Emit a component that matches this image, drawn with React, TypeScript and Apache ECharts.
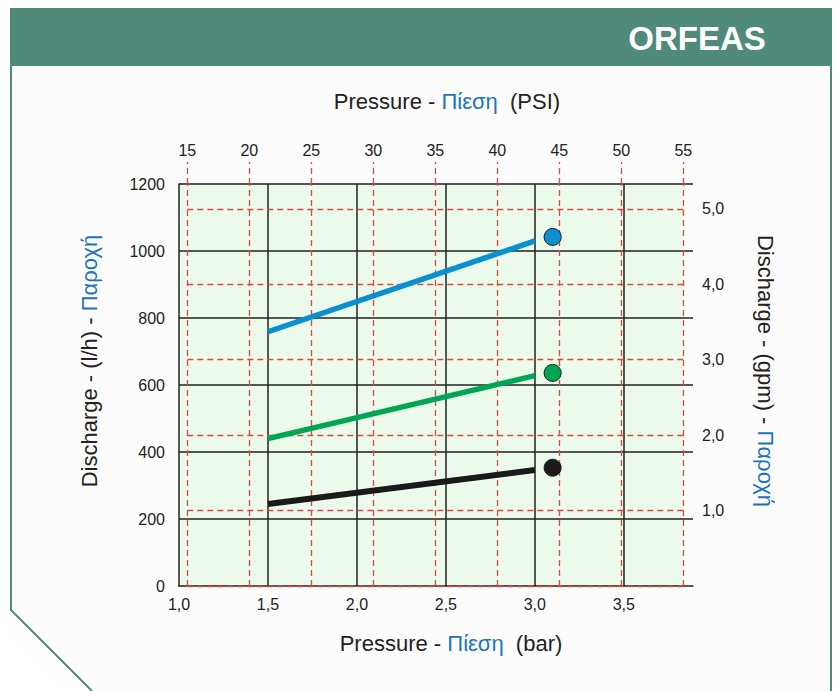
import React, { useEffect, useRef } from "react";
import * as echarts from "echarts";

// ---- data ----
const barTicks = [1.0, 1.5, 2.0, 2.5, 3.0, 3.5];
const psiTicks = [15, 20, 25, 30, 35, 40, 45, 50, 55];
const gpmTicks = [0, 1, 2, 3, 4, 5];
const gpmLabels = [1, 2, 3, 4, 5];
const lphMax = 1200;
const lphInterval = 200;
const barMin = 1.0;
const barMax = 3.889;
const psiMin = 14.33;
const psiMax = 55.78;
const gpmMax = 5.33;

const blueLine = [[1.5, 759], [3.0, 1030]];
const blueDot = [[3.1, 1042]];
const greenLine = [[1.5, 440], [3.0, 628]];
const greenDot = [[3.1, 636]];
const blackLine = [[1.5, 245], [3.0, 346]];
const blackDot = [[3.1, 353]];

const BLUE = "#0a8fd0";
const GREEN = "#00a651";
const BLACK = "#1a1a1a";
const RED = "#e2483c";
const TITLE_BLUE = "#1b75bb";
const FRAME = "#4f8a7a";
const FONT = "'Liberation Sans', Arial, sans-serif";
const TS = 22;
const LS = 16;

const comma = (v: number) => v.toFixed(1).replace(".", ",");

export default function App() {
  const ref = useRef<HTMLDivElement>(null);
  useEffect(() => {
    if (!ref.current) return;
    const chart = echarts.init(ref.current, undefined, { renderer: "svg" });
    const redStyle = { color: RED, width: 1.3, type: [6, 4] as any };
    const blackSplit = { color: "#222", width: 1.5 };
    const richTitle = {
      a: { fill: "#222", fontSize: TS, fontFamily: FONT },
      b: { fill: TITLE_BLUE, fontSize: TS, fontFamily: FONT },
    };
    const option: any = {
      animation: false,
      backgroundColor: "#ffffff",
      textStyle: { fontFamily: FONT },
      grid: [
        { left: 179, top: 184, width: 514, height: 402, containLabel: false },
        { left: 179, top: 162, width: 514, height: 22, containLabel: false },
      ],
      xAxis: [
        {
          type: "value",
          gridIndex: 0,
          position: "bottom",
          min: barMin,
          max: barMax,
          interval: 0.5,
          z: 1,
          axisLine: { show: true, onZero: false, lineStyle: blackSplit },
          axisTick: { show: false },
          axisLabel: {
            customValues: barTicks,
            formatter: (v: number) => comma(v),
            color: "#222",
            fontSize: LS,
            margin: 10,
            fontFamily: FONT,
          },
          splitLine: { show: true, showMinLine: false, showMaxLine: false, lineStyle: blackSplit },
        },
        {
          type: "value",
          gridIndex: 0,
          position: "top",
          min: psiMin,
          max: psiMax,
          axisLine: { show: false },
          axisTick: { show: false },
          axisLabel: { customValues: psiTicks, color: "#222", fontSize: LS, margin: 26, fontFamily: FONT },
          splitLine: { show: false },
        },
        {
          type: "value",
          gridIndex: 1,
          min: psiMin,
          max: psiMax,
          show: false,
        },
      ],
      yAxis: [
        {
          type: "value",
          gridIndex: 0,
          position: "left",
          min: 0,
          max: lphMax,
          interval: lphInterval,
          z: 1,
          axisLine: { show: true, lineStyle: blackSplit },
          axisTick: { show: false },
          axisLabel: {
            color: "#222",
            fontSize: LS,
            margin: 14,
            fontFamily: FONT,
            formatter: (v: number) => String(v),
          },
          splitLine: { show: true, showMinLine: false, lineStyle: blackSplit },
        },
        {
          type: "value",
          gridIndex: 0,
          position: "right",
          min: 0,
          max: gpmMax,
          axisLine: { show: false },
          axisTick: { show: false },
          axisLabel: {
            customValues: gpmLabels,
            formatter: (v: number) => comma(v),
            color: "#222",
            fontSize: LS,
            margin: 9,
            fontFamily: FONT,
          },
          splitLine: { show: false },
        },
        {
          type: "value",
          gridIndex: 1,
          min: 0,
          max: 1,
          show: false,
        },
      ],
      graphic: [
        {
          type: "polygon",
          z: -10,
          shape: { points: [[11, 66], [831, 66], [831, 691], [92, 691], [11, 610]] },
          style: { fill: "#fcfcfc" },
        },
        { type: "rect", shape: { x: 10, y: 8, width: 822, height: 58 }, style: { fill: FRAME } },
        {
          type: "polyline",
          shape: { points: [[11, 66], [11, 610], [92, 691]] },
          style: { stroke: FRAME, lineWidth: 2, fill: null },
        },
        {
          type: "line",
          shape: { x1: 831, y1: 66, x2: 831, y2: 691 },
          style: { stroke: FRAME, lineWidth: 2 },
        },
        {
          type: "text",
          x: 697,
          y: 38,
          style: {
            text: "ORFEAS",
            fill: "#ffffff",
            font: `bold 33px ${FONT}`,
            align: "center",
            verticalAlign: "middle",
          },
        },
        {
          type: "text",
          x: 447,
          y: 101,
          style: {
            text: "{a|Pressure - }{b|Πίεση}{a|  (PSI)}",
            align: "center",
            verticalAlign: "middle",
            rich: richTitle,
          },
        },
        {
          type: "text",
          x: 451,
          y: 643,
          style: {
            text: "{a|Pressure - }{b|Πίεση}{a|  (bar)}",
            align: "center",
            verticalAlign: "middle",
            rich: richTitle,
          },
        },
        {
          type: "text",
          x: 89,
          y: 361,
          rotation: Math.PI / 2,
          style: {
            text: "{a|Discharge - (l/h) - }{b|Παροχή}",
            align: "center",
            verticalAlign: "middle",
            rich: richTitle,
          },
        },
        {
          type: "text",
          x: 765,
          y: 371,
          rotation: -Math.PI / 2,
          style: {
            text: "{a|Discharge - (gpm) - }{b|Παροχή}",
            align: "center",
            verticalAlign: "middle",
            rich: richTitle,
          },
        },
      ],
      series: [
        {
          name: "bg",
          type: "line",
          xAxisIndex: 1,
          yAxisIndex: 1,
          data: [],
          z: -1,
          silent: true,
          markArea: {
            silent: true,
            z: -1,
            itemStyle: { color: "#ebfaeb" },
            data: [[{ coord: [psiMin, 0] }, { coord: [psiTicks[psiTicks.length - 1], gpmMax] }]],
          },
        },
        {
          name: "redgrid",
          type: "line",
          xAxisIndex: 1,
          yAxisIndex: 1,
          data: [],
          z: 2,
          silent: true,
          markLine: {
            silent: true,
            z: 2,
            symbol: ["none", "none"],
            label: { show: false },
            lineStyle: redStyle,
            emphasis: { disabled: true },
            data: [
              ...psiTicks.map((v) => [{ coord: [v, 0] }, { coord: [v, gpmMax] }]),
              ...gpmTicks.map((v) => [
                { coord: [psiTicks[0], v] },
                { coord: [psiTicks[psiTicks.length - 1], v] },
              ]),
            ],
          },
        },
        {
          name: "psiTicks",
          type: "line",
          xAxisIndex: 2,
          yAxisIndex: 2,
          data: [],
          silent: true,
          markLine: {
            silent: true,
            z: 2,
            symbol: ["none", "none"],
            label: { show: false },
            lineStyle: redStyle,
            emphasis: { disabled: true },
            data: psiTicks.map((v) => [{ coord: [v, 0] }, { coord: [v, 1] }]),
          },
        },
        {
          type: "line",
          data: blueLine,
          symbol: "none",
          z: 3,
          lineStyle: { color: BLUE, width: 5.5, cap: "butt" },
        },
        {
          type: "line",
          data: greenLine,
          symbol: "none",
          z: 3,
          lineStyle: { color: GREEN, width: 5.5, cap: "butt" },
        },
        {
          type: "line",
          data: blackLine,
          symbol: "none",
          z: 3,
          lineStyle: { color: BLACK, width: 6, cap: "butt" },
        },
        {
          type: "scatter",
          data: blueDot,
          symbolSize: 17,
          z: 4,
          itemStyle: { color: BLUE, borderColor: "#1a1a1a", borderWidth: 1, opacity: 1 },
        },
        {
          type: "scatter",
          data: greenDot,
          symbolSize: 17,
          z: 4,
          itemStyle: { color: GREEN, borderColor: "#1a1a1a", borderWidth: 1, opacity: 1 },
        },
        {
          type: "scatter",
          data: blackDot,
          symbolSize: 17,
          z: 4,
          itemStyle: { color: BLACK, borderColor: "#1a1a1a", borderWidth: 1, opacity: 1 },
        },
      ],
    };
    chart.setOption(option);
    return () => chart.dispose();
  }, []);
  return (
    <div
      ref={ref}
      style={{ position: "fixed", left: 0, top: 0, width: 838, height: 691 }}
    />
  );
}
